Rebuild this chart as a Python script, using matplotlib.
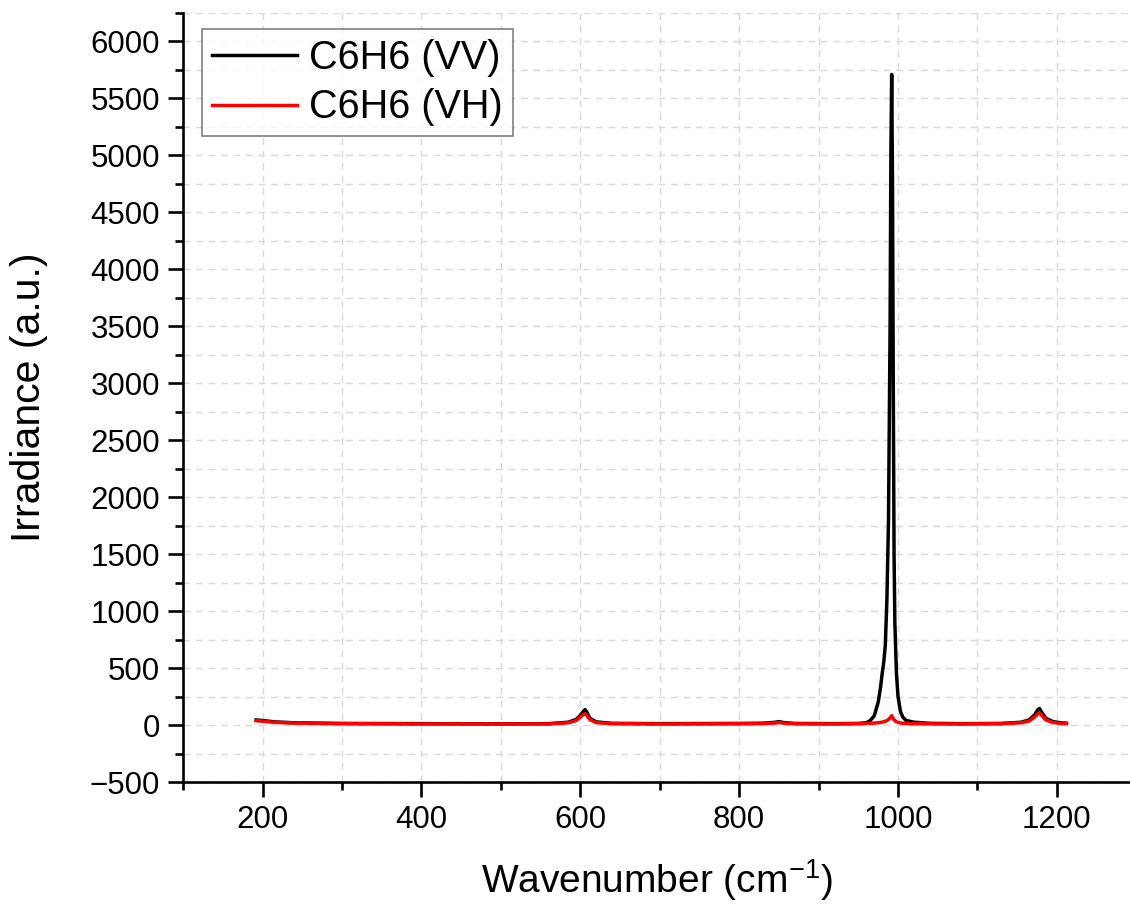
import matplotlib
matplotlib.use("Agg")
import matplotlib.pyplot as plt
from matplotlib.ticker import MultipleLocator

plt.rcParams['font.family'] = ['Liberation Sans', 'DejaVu Sans']
plt.rcParams['axes.unicode_minus'] = True
plt.rcParams['mathtext.fontset'] = 'custom'
plt.rcParams['mathtext.rm'] = 'Liberation Sans'

# Wavenumber (cm^-1) and irradiance values
wn_vv = [192, 200, 215, 240, 300, 400, 500, 560, 585, 595, 600, 604, 606, 608, 612, 620, 640, 700, 800, 830,
         845, 850, 856, 870, 920, 950, 960, 965, 970, 975, 978, 980, 982, 984, 986, 988, 990, 991, 992,
         993, 994, 995, 996, 998, 1000, 1003, 1006, 1010, 1020, 1040, 1080, 1130, 1155, 1165, 1172, 1176,
         1178, 1181, 1186, 1195, 1205, 1212]
irr_vv = [45, 40, 28, 20, 14, 12, 10, 12, 25, 50, 85, 120, 135, 115, 60, 28, 15, 12, 14, 16,
          24, 30, 22, 14, 12, 14, 20, 40, 80, 200, 330, 450, 550, 700, 1100, 1800, 3500, 5000, 5710,
          4800, 3000, 1500, 900, 450, 250, 120, 70, 40, 25, 15, 12, 14, 25, 45, 90, 135,
          145, 110, 60, 30, 20, 16]

wn_vh = [192, 200, 215, 240, 300, 400, 500, 560, 585, 595, 600, 604, 606, 608, 612, 620, 640, 700, 800, 830,
         845, 850, 856, 870, 920, 950, 970, 980, 986, 989, 991, 992, 993, 995, 998, 1003, 1010, 1030, 1080,
         1130, 1155, 1165, 1172, 1176, 1178, 1181, 1186, 1195, 1205, 1212]
irr_vh = [38, 34, 24, 17, 12, 10, 9, 10, 20, 40, 70, 92, 100, 88, 48, 22, 12, 10, 11, 13,
          18, 22, 17, 11, 10, 12, 17, 25, 38, 55, 72, 82, 70, 45, 28, 18, 13, 11, 10,
          12, 20, 35, 70, 100, 105, 85, 45, 22, 15, 12]

labels = ['C6H6 (VV)', 'C6H6 (VH)']

fig = plt.figure(figsize=(11.3, 9.09), dpi=100)
ax = fig.add_axes([0.162, 0.1397, 0.838, 0.846])

ax.plot(wn_vv, irr_vv, color='black', lw=2.5, label=labels[0], zorder=3)
ax.plot(wn_vh, irr_vh, color='#ff0000', lw=2.5, label=labels[1], zorder=4)

ax.set_xlim(100, 1292)
ax.set_ylim(-500, 6250)
ax.xaxis.set_major_locator(MultipleLocator(200))
ax.xaxis.set_minor_locator(MultipleLocator(100))
ax.yaxis.set_major_locator(MultipleLocator(500))
ax.yaxis.set_minor_locator(MultipleLocator(250))

ax.grid(which='both', color='#d9d9d9', linestyle=(0, (5, 4)), linewidth=1.0, zorder=0)
ax.set_axisbelow(True)

for s in ['top', 'right']:
    ax.spines[s].set_visible(False)
for s in ['left', 'bottom']:
    ax.spines[s].set_linewidth(1.9)

ax.tick_params(which='major', direction='out', length=10.5, width=1.9, labelsize=22.5, pad=6)
ax.tick_params(which='minor', direction='out', length=5.5, width=1.9)

ax.set_xlabel('Wavenumber (cm$^{\\mathregular{-1}}$)', fontsize=28, labelpad=16)
ax.set_ylabel('Irradiance (a.u.)', fontsize=29.5, labelpad=30)

leg = ax.legend(loc='upper left', bbox_to_anchor=(0.012, 0.99), fontsize=28.5, frameon=True,
                fancybox=False, edgecolor='#606060', handlelength=2.15, handletextpad=0.3,
                borderpad=0.25, labelspacing=0.3, borderaxespad=0.2)
leg.get_frame().set_linewidth(1.2)

fig.savefig('out.png', dpi=100)
